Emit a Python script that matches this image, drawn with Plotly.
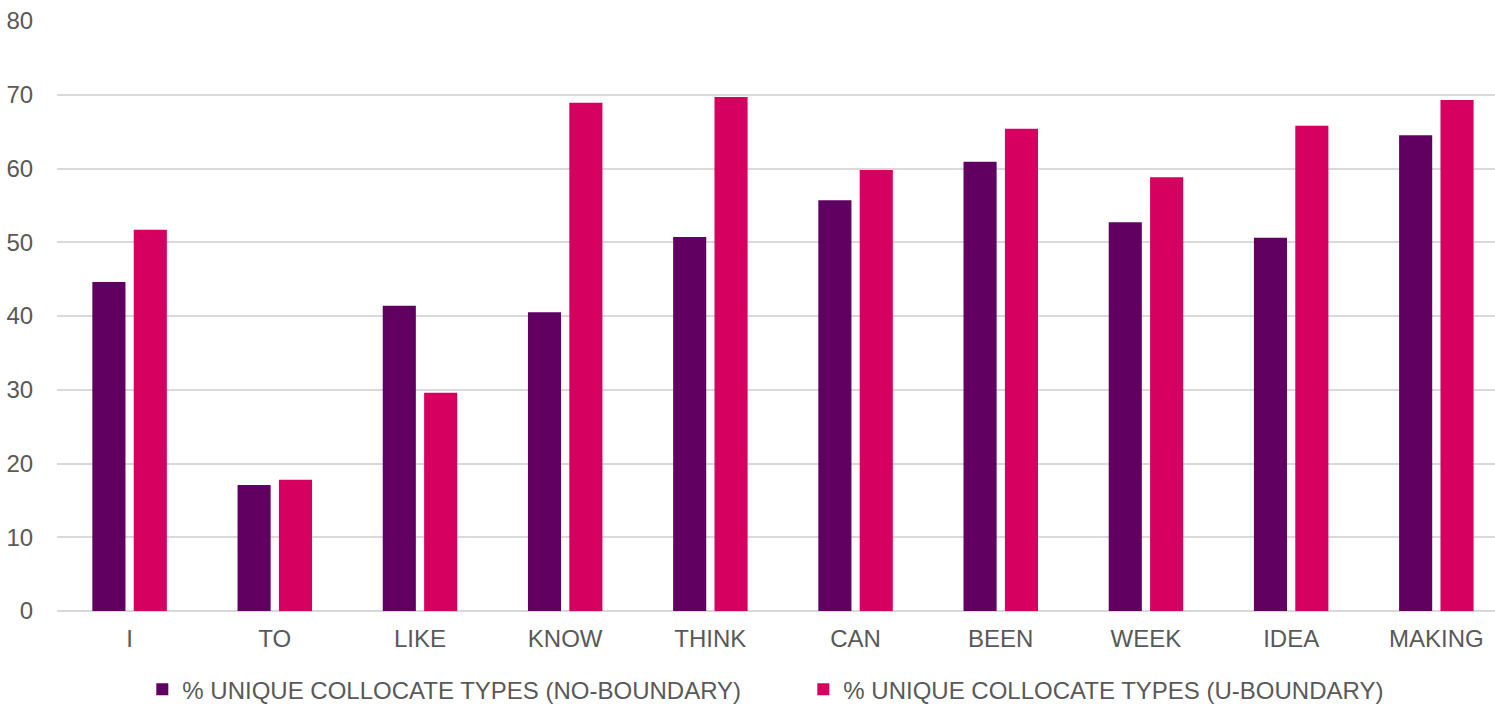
import plotly.graph_objects as go

categories = ["I", "TO", "LIKE", "KNOW", "THINK", "CAN", "BEEN", "WEEK", "IDEA", "MAKING"]
no_boundary = [44.6, 17.1, 41.4, 40.5, 50.7, 55.7, 60.9, 52.7, 50.6, 64.5]
u_boundary = [51.7, 17.8, 29.6, 68.9, 69.7, 59.8, 65.4, 58.8, 65.8, 69.3]
series_names = ["% UNIQUE COLLOCATE TYPES (NO-BOUNDARY)", "% UNIQUE COLLOCATE TYPES (U-BOUNDARY)"]
y_ticks = [0, 10, 20, 30, 40, 50, 60, 70, 80]

FONT = "Liberation Sans, Arial, sans-serif"
GRAY = "#595959"
FS = 24

fig = go.Figure()
fig.add_trace(go.Bar(x=categories, y=no_boundary, name=series_names[0],
                     marker=dict(color="#600060", line=dict(width=0))))
fig.add_trace(go.Bar(x=categories, y=u_boundary, name=series_names[1],
                     marker=dict(color="#D5005F", line=dict(width=0))))

fig.update_layout(
    width=1495, height=704,
    margin=dict(l=57, r=0, t=21, b=93, autoexpand=False),
    paper_bgcolor="white", plot_bgcolor="white",
    barmode="group", bargap=0.43, bargroupgap=0.20,
    font=dict(family=FONT, size=FS, color=GRAY),
    showlegend=True,
    legend=dict(orientation="h", x=0.519, xanchor="center", y=-0.095, yanchor="top",
                entrywidth=616,
                font=dict(family=FONT, size=FS, color=GRAY), itemclick=False),
    xaxis=dict(range=[-0.5, 9.404], showgrid=False, zeroline=False,
               showline=False, ticks="outside", ticklen=6, tickcolor="rgba(0,0,0,0)",
               tickfont=dict(family=FONT, size=FS, color=GRAY)),
    yaxis=dict(range=[0, 80], tickvals=y_ticks, showgrid=True, gridcolor="#D9D9D9",
               gridwidth=1.5, zeroline=True, zerolinecolor="#D9D9D9", zerolinewidth=1.5,
               showline=False, ticks="outside", ticklen=18, tickcolor="rgba(0,0,0,0)",
               tickfont=dict(family=FONT, size=FS, color=GRAY)),
)

fig.write_html("out.html")
